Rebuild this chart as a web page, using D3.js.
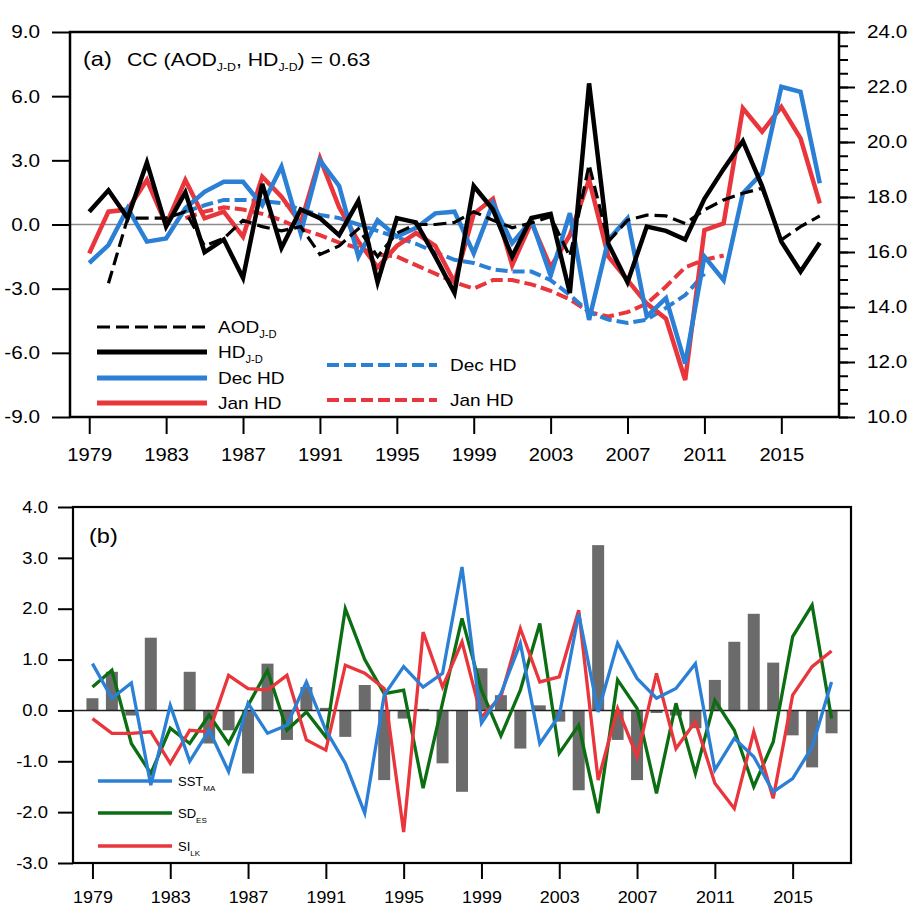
<!DOCTYPE html>
<html>
<head>
<meta charset="utf-8">
<script src="https://cdn.jsdelivr.net/npm/d3@7"></script>
<style>
  body { margin: 0; background: #fff; }
  text { font-family: "Liberation Sans", Arial, Helvetica, sans-serif; fill: #000; }
</style>
</head>
<body>
<div id="chart"></div>
<script>
// years 1979-2017
var years = d3.range(1979, 2018);
var xTicks = [1979, 1983, 1987, 1991, 1995, 1999, 2003, 2007, 2011, 2015];
var leftTicksA = [-9, -6, -3, 0, 3, 6, 9];
var rightTicksA = [10, 12, 14, 16, 18, 20, 22, 24];
var leftTicksB = [-3, -2, -1, 0, 1, 2, 3, 4];

// panel (a)
var aodJD = [null, -2.75, 0.3, 0.3, 0.3, 0.6, -1.0, -0.65, 0.2, -0.1, -0.3, -0.1,
  -1.4, -1.0, -0.2, -1.5, -0.4, 0.0, 0.0, 0.1, 0.6, 0.2,
  -0.15, 0.07, 0.37, -1.5, 2.8, -0.8, 0.2, 0.44, 0.4, 0.05,
  0.68, 1.15, 1.46, 1.7, -0.72, -0.1, 0.4];
var hdJD = [0.6, 1.6, 0.3, 2.9, -0.1, 1.5, -1.3, -0.7, -2.5, 1.9, -1.1, 0.7,
  0.3, -0.5, 1.1, -2.7, 0.3, 0.1, -1.5, -3.2, 1.8, 0.7,
  -1.5, 0.3, 0.5, -3.2, 6.6, -0.9, -2.7, -0.1, -0.3, -0.7,
  1.2, 2.6, 3.9, 1.8, -0.8, -2.2, -0.85];
var decHD = [-1.8, -0.96, 0.76, -0.8, -0.65, 0.76, 1.53, 2.0, 2.0, 0.9, 2.7, -0.4,
  3.0, 1.8, -1.5, 0.2, -0.57, -0.16, 0.52, 0.6, -1.35, 1.0,
  -0.87, 0.2, -2.4, 0.53, -4.46, -0.72, 0.29, -4.3, -3.44, -6.5,
  -1.5, -2.6, 1.46, 2.4, 6.44, 6.2, 1.93];
var janHD = [-1.35, 0.6, 0.7, 2.08, 0.0, 2.08, 0.29, 0.6, -0.57, 2.23, 1.3, 0.05,
  3.1, 0.8, -0.8, -2.0, -1.0, -0.4, -1.0, -2.7, 0.5, 1.2,
  -1.9, 0.1, -2.0, -0.5, 2.1, -1.5, -2.6, -3.7, -4.4, -7.27,
  -0.26, 0.05, 5.43, 4.34, 5.5, 4.03, 0.99];
var decHDsmooth = [null, null, null, null, null,
  0.6, 0.9, 1.15, 1.15, 1.1, 1.0, 0.7, 0.45, 0.3, 0.0,
  -0.3, -0.6, -0.9, -1.3, -1.65, -1.8, -2.1, -2.2, -2.2, -2.6,
  -3.3, -4.1, -4.45, -4.6, -4.45, -3.9, -3.3, -2.3,
  null, null, null, null, null, null];
var janHDsmooth = [null, null, null, null, null,
  0.3, 0.6, 0.8, 0.7, 0.5, 0.2, -0.2, -0.5, -0.85, -1.1,
  -1.4, -1.5, -1.9, -2.3, -2.7, -3.0, -2.6, -2.6, -2.8, -3.1,
  -3.5, -4.1, -4.3, -4.1, -3.7, -2.9, -2.0, -1.65, -1.45,
  null, null, null, null, null];

// panel (b)
var aodBars = [0.24, 0.76, -0.1, 1.43, 0.0, 0.76, -0.65, -0.39, -1.24, 0.92, -0.58, 0.46,
  0.05, -0.52, 0.5, -1.37, -0.16, 0.03, -1.04, -1.6, 0.83, 0.3,
  -0.75, 0.1, -0.22, -1.57, 3.25, -0.58, -1.37, -0.05, -0.1, -0.35,
  0.6, 1.35, 1.9, 0.94, -0.49, -1.12, -0.45];
var sstMA = [0.92, 0.24, 0.54, -1.47, 0.1, -1.0, -0.39, -1.2, 0.14, -0.45, -0.29, 0.56,
  -0.39, -1.04, -2.02, 0.3, 0.86, 0.46, 0.73, 2.82, -0.25, 0.33,
  1.32, -0.65, -0.1, 1.9, -0.03, 1.32, 0.63, 0.24, 0.43, 0.92,
  -1.17, -0.55, -0.91, -1.6, -1.34, -0.72, 0.56];
var sdES = [0.46, 0.79, -0.65, -1.24, -0.35, -0.65, -0.09, -0.65, 0.1, 0.79, -0.39, -0.03,
  -0.52, 2.0, 1.0, 0.33, 0.4, -1.53, 0.15, 1.81, 0.4, -0.5,
  0.4, 1.71, -0.84, -0.29, -2.02, 0.6, 0.04, -1.63, 0.14, -1.24,
  0.2, -0.39, -1.5, -0.62, 1.45, 2.07, -0.16];
var siLK = [-0.16, -0.45, -0.45, -0.42, -1.04, -0.39, -0.42, 0.69, 0.43, 0.4, 0.69, -0.58,
  -0.78, 0.89, 0.73, 0.43, -2.39, 1.54, 0.46, 1.35, -0.13, 0.27,
  1.61, 0.56, 0.66, 1.97, -1.37, 0.04, -0.91, 0.73, -0.75, -0.22,
  -1.43, -1.93, -0.42, -1.73, 0.3, 0.86, 1.17];

var BLUE = "#2b80d6", RED = "#e8363c", GREEN = "#0b6e12", GREY = "#6b6b6b";
var SX = 1.12; // glyphs in the original are a bit wide

var svg = d3.select("#chart").append("svg")
    .attr("width", 912)
    .attr("height", 912);

var fmt = d => d.toFixed(1);

// write text with subscript parts, slightly widened
function richText(g, x, y, parts, size, subSize, sx) {
    var t = g.append("g")
        .attr("transform", `translate(${x},${y}) scale(${sx || SX},1)`)
        .append("text").style("font-size", size + "px");
    var shift = 0;
    parts.forEach(p => {
        var sp = t.append("tspan").text(p[0]);
        if (p[1]) {
            sp.attr("dy", 5 - shift).style("font-size", subSize + "px");
            shift = 5;
        } else {
            sp.attr("dy", -shift);
            shift = 0;
        }
    });
    return t;
}

function styleAxis(g, size) {
    g.select(".domain").remove();
    g.selectAll(".tick line").attr("stroke", "#000").attr("stroke-width", 2);
    g.selectAll(".tick text").style("font-size", size + "px")
        .style("font-family", '"Liberation Sans", Arial, sans-serif').attr("fill", "#000")
        .each(function() {
            var t = d3.select(this);
            var x = +t.attr("x") || 0;
            t.attr("x", x / SX).attr("transform", `scale(${SX},1)`);
        });
}

// ---------------- panel (a) ----------------
var A = {left: 70, right: 839, top: 32, bottom: 417};
var xA = d3.scaleLinear().domain([1978, 2018]).range([A.left, A.right]);
var yA = d3.scaleLinear().domain([-9, 9]).range([A.bottom, A.top]);
var yR = d3.scaleLinear().domain([10, 24]).range([A.bottom, A.top]);

var ga = svg.append("g");

ga.append("line")
    .attr("x1", A.left).attr("x2", A.right)
    .attr("y1", yA(0)).attr("y2", yA(0))
    .attr("stroke", "#8a8a8a").attr("stroke-width", 1.6);

var lineA = d3.line()
    .defined(d => d[1] != null)
    .x(d => xA(d[0]))
    .y(d => yA(d[1]));

function zipYears(arr) { return years.map((y, i) => [y, arr[i]]); }

var seriesA = [
    {data: janHDsmooth, color: RED, w: 4, dash: "12,5"},
    {data: decHDsmooth, color: BLUE, w: 4, dash: "12,5"},
    {data: janHD, color: RED, w: 4.5, dash: null},
    {data: decHD, color: BLUE, w: 4.5, dash: null},
    {data: aodJD, color: "#000", w: 3.2, dash: "13,6"},
    {data: hdJD, color: "#000", w: 4.5, dash: null}
];
seriesA.forEach(s => {
    ga.append("path")
        .datum(zipYears(s.data))
        .attr("d", lineA)
        .attr("fill", "none")
        .attr("stroke", s.color)
        .attr("stroke-width", s.w)
        .attr("stroke-dasharray", s.dash);
});

ga.append("rect")
    .attr("x", A.left).attr("y", A.top)
    .attr("width", A.right - A.left).attr("height", A.bottom - A.top)
    .attr("fill", "none").attr("stroke", "#000").attr("stroke-width", 2.5);

var axLA = ga.append("g").attr("transform", `translate(${A.left},0)`)
    .call(d3.axisLeft(yA).tickValues(leftTicksA).tickFormat(fmt).tickSize(18).tickPadding(12));
styleAxis(axLA, 18.5);

var axRminor = ga.append("g").attr("transform", `translate(${A.right},0)`)
    .call(d3.axisRight(yR).tickValues(d3.range(10, 24.01, 0.5)).tickFormat("").tickSize(9));
styleAxis(axRminor, 18.5);
var axRA = ga.append("g").attr("transform", `translate(${A.right},0)`)
    .call(d3.axisRight(yR).tickValues(rightTicksA).tickFormat(fmt).tickSize(16).tickPadding(12));
styleAxis(axRA, 18.5);

var axBA = ga.append("g").attr("transform", `translate(0,${A.bottom})`)
    .call(d3.axisBottom(xA).tickValues(xTicks).tickFormat(d3.format("d")).tickSize(17).tickPadding(14));
styleAxis(axBA, 18);

richText(ga, 83, 66, [["(a)"]], 21, 12);
richText(ga, 127, 66, [["CC ("], ["AOD"], ["J-D", 1], [", HD"], ["J-D", 1], [") = 0.63"]], 19, 11);

// legend (a)
var legA = [
    {x1: 97, x2: 207, y: 327, tx: 218, parts: [["AOD"], ["J-D", 1]], color: "#000", w: 3.2, dash: "13,6"},
    {x1: 97, x2: 207, y: 352, tx: 218, parts: [["HD"], ["J-D", 1]], color: "#000", w: 5, dash: null},
    {x1: 97, x2: 207, y: 378, tx: 218, parts: [["Dec HD"]], color: BLUE, w: 5, dash: null},
    {x1: 97, x2: 207, y: 403, tx: 218, parts: [["Jan HD"]], color: RED, w: 5, dash: null},
    {x1: 327, x2: 437, y: 365, tx: 450, parts: [["Dec HD"]], color: BLUE, w: 4, dash: "12,5"},
    {x1: 327, x2: 437, y: 400, tx: 450, parts: [["Jan HD"]], color: RED, w: 4, dash: "12,5"}
];
legA.forEach(l => {
    ga.append("line").attr("x1", l.x1).attr("x2", l.x2).attr("y1", l.y).attr("y2", l.y)
        .attr("stroke", l.color).attr("stroke-width", l.w).attr("stroke-dasharray", l.dash);
    richText(ga, l.tx, l.y + 6, l.parts, 17, 10);
});

// ---------------- panel (b) ----------------
var B = {left: 73, right: 851, top: 507, bottom: 863};
var xB = d3.scaleLinear().domain([1978, 2018]).range([B.left, B.right]);
var yB = d3.scaleLinear().domain([-3, 4]).range([B.bottom, B.top]);

var gb = svg.append("g");

gb.selectAll("rect.bar")
    .data(years.map((y, i) => [y, aodBars[i]]))
    .enter().append("rect")
    .attr("class", "bar")
    .attr("x", d => xB(d[0]) - 6)
    .attr("width", 12)
    .attr("y", d => yB(Math.max(0, d[1])))
    .attr("height", d => Math.abs(yB(d[1]) - yB(0)))
    .attr("fill", GREY);

gb.append("line")
    .attr("x1", B.left).attr("x2", B.right)
    .attr("y1", yB(0)).attr("y2", yB(0))
    .attr("stroke", "#222").attr("stroke-width", 1.6);

var lineB = d3.line().x(d => xB(d[0])).y(d => yB(d[1]));

[[sdES, GREEN], [siLK, RED], [sstMA, BLUE]].forEach(s => {
    gb.append("path")
        .datum(zipYears(s[0]))
        .attr("d", lineB)
        .attr("fill", "none")
        .attr("stroke", s[1])
        .attr("stroke-width", 3.3);
});

gb.append("rect")
    .attr("x", B.left).attr("y", B.top)
    .attr("width", B.right - B.left).attr("height", B.bottom - B.top)
    .attr("fill", "none").attr("stroke", "#000").attr("stroke-width", 2.2);

var axLB = gb.append("g").attr("transform", `translate(${B.left},0)`)
    .call(d3.axisLeft(yB).tickValues(leftTicksB).tickFormat(fmt).tickSize(15).tickPadding(10));
styleAxis(axLB, 16.5);

var axBB = gb.append("g").attr("transform", `translate(0,${B.bottom})`)
    .call(d3.axisBottom(xB).tickValues(xTicks).tickFormat(d3.format("d")).tickSize(16).tickPadding(13));
styleAxis(axBB, 16);

richText(gb, 89, 543, [["(b)"]], 21, 12);

var legB = [
    {y: 781, parts: [["SST"], ["MA", 1]], color: BLUE},
    {y: 813, parts: [["SD"], ["ES", 1]], color: GREEN},
    {y: 846, parts: [["SI"], ["LK", 1]], color: RED}
];
legB.forEach(l => {
    gb.append("line").attr("x1", 98).attr("x2", 172).attr("y1", l.y).attr("y2", l.y)
        .attr("stroke", l.color).attr("stroke-width", 3.3);
    richText(gb, 178, l.y + 5, l.parts, 13, 8, 1);
});
</script>
</body>
</html>
